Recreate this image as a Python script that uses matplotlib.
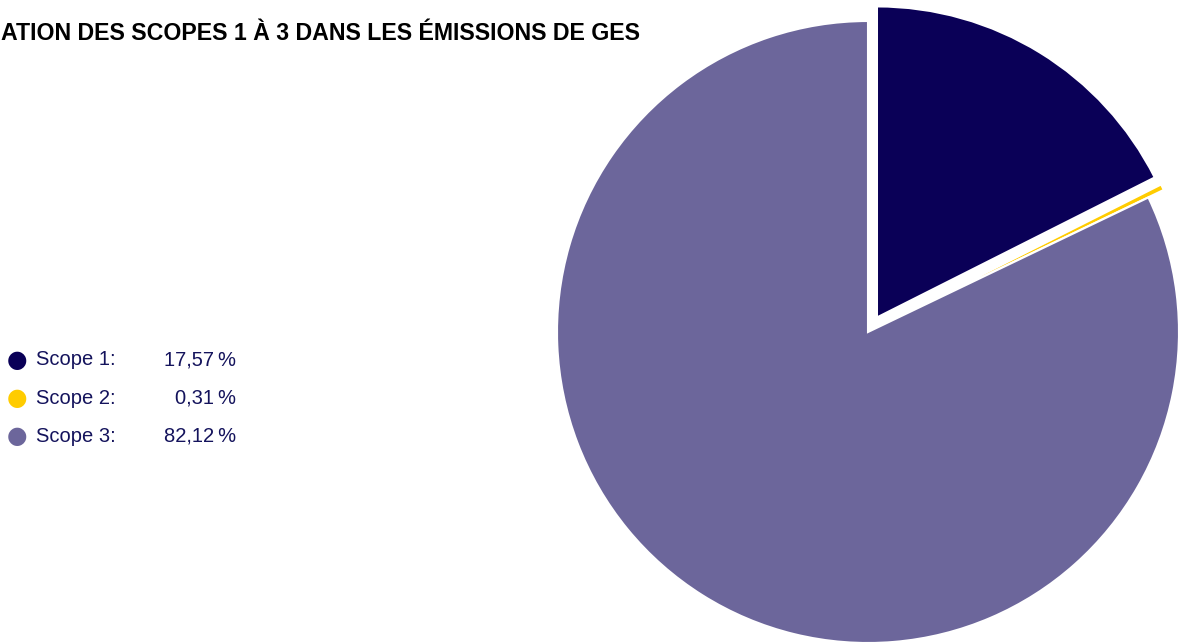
import matplotlib.pyplot as plt

# data
labels = ['Scope 1', 'Scope 2', 'Scope 3']
shares = [17.57, 0.31, 82.12]
colors = ['#0a0057', '#ffcc00', '#6c669b']
title = 'ATION DES SCOPES 1 À 3 DANS LES ÉMISSIONS DE GES'

W, H = 1182, 644
fig = plt.figure(figsize=(W / 100, H / 100), dpi=100)

# pie axes, placed in pixels: centre (868, 332), radius 311
r_px = 311
half = 360
cx, cy = 868, H - 332
ax = fig.add_axes([(cx - half) / W, (cy - half) / H, 2 * half / W, 2 * half / H])
ax.pie(shares, colors=colors, startangle=90, counterclock=False,
       explode=[0.055, 0.055, 0], radius=1,
       wedgeprops=dict(edgecolor='white', linewidth=1.5))
lim = half / r_px
ax.set_xlim(-lim, lim)
ax.set_ylim(-lim, lim)
ax.set_aspect('equal')
ax.axis('off')

# title: shrink font until it spans x = 1..641 px
t = fig.text(1 / W, 1 - 33 / H, title, ha='left', va='center',
             fontsize=18, fontweight='bold', color='black',
             family=['Liberation Sans', 'DejaVu Sans'])
rend = fig.canvas.get_renderer()
w = t.get_window_extent(rend).width
t.set_fontsize(18 * 640 / w)

# legend
txt_color = '#14135c'
rows_y = [360, 398, 436]
for lab, val, col, y in zip(labels, shares, colors, rows_y):
    yf = 1 - y / H
    fig.text(17 / W, yf, '\u25CF', ha='center', va='center', fontsize=17,
             color=col, family='DejaVu Sans')
    fig.text(36 / W, yf, lab + ':', ha='left', va='center', fontsize=14.5,
             color=txt_color, family='Liberation Sans')
    fig.text(236 / W, yf, f'{val:.2f}\u2009%'.replace('.', ','), ha='right',
             va='center', fontsize=14.5, color=txt_color,
             family=['Liberation Sans', 'DejaVu Sans'])

fig.savefig('out.png', dpi=100)
